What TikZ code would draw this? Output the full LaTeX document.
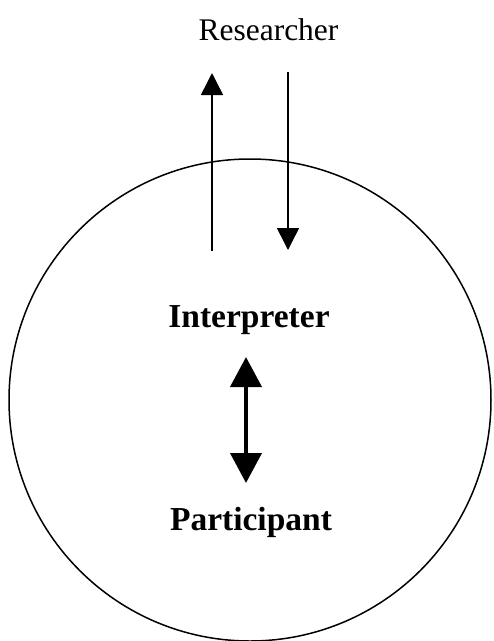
\documentclass[tikz,border=0pt]{standalone}
\usepackage{fontspec}
\setmainfont{Liberation Serif}
\usetikzlibrary{arrows.meta}

\tikzset{
  thinarrow/.style={line width=1.5pt, -{Triangle[length=22pt,width=22pt]}},
  thickarrow/.style={line width=4pt, {Triangle[length=30pt,width=31pt]}-{Triangle[length=30pt,width=31pt]}},
  roletext/.style={inner sep=0pt, anchor=base, font=\fontsize{33.5}{38}\selectfont\bfseries},
}

\begin{document}
\begin{tikzpicture}[x=1pt,y=-1pt]

% ---------- Parameter ----------
\def\cx{250}
\def\cy{400}
\def\rad{241}

\useasboundingbox (0,0) rectangle (494,641);

% ===================
% Kreis mit Rollen
% ===================
\draw[line width=1.5pt] (\cx,\cy) circle (\rad);

\node[inner sep=0pt, anchor=base, font=\fontsize{31.5}{36}\selectfont] (researcher) at (268.5,40) {Researcher};
\node[roletext] (interp) at (249,327) {Interpreter};
\node[roletext] (partic) at (251,530) {Participant};

% Pfeile zum/vom Researcher
\coordinate (upfrom) at (212,251);
\coordinate (upto)   at (212,73);
\coordinate (downfrom) at (288,72);
\coordinate (downto)   at (288,250);
\draw[thinarrow] (upfrom) -- (upto);
\draw[thinarrow] (downfrom) -- (downto);

% Doppelpfeil Interpreter <-> Participant
\coordinate (dtop) at (246,357);
\coordinate (dbot) at (246,483);
\draw[thickarrow] (dtop) -- (dbot);

\end{tikzpicture}
\end{document}
